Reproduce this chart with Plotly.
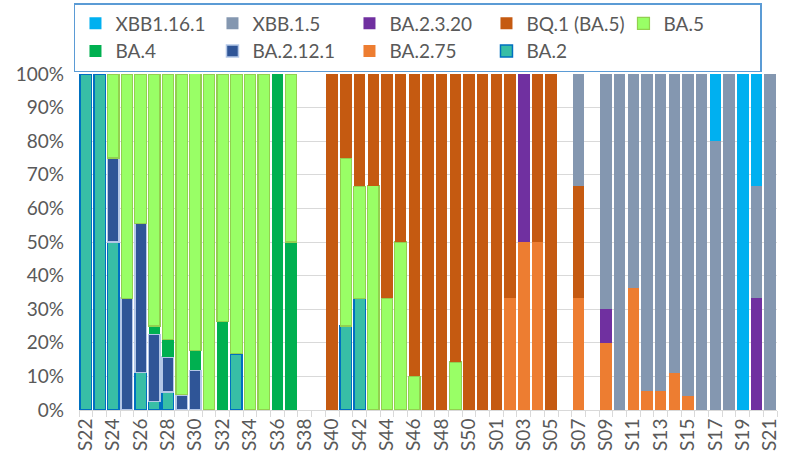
import plotly.graph_objects as go

weeks = [f"S{w}" for w in range(22, 52)] + [f"S{w:02d}" for w in range(1, 22)]

# percentage share per week (S22..S51, S01..S21); None = no data
ba2 = [100, 100, 50, None, 11.1, 2.5, 5.3, None, None, None, None, 16.7, None, None, None, None,
       None, None, None, 25, 33.3, None, None, None, None, None, None, None, None, None,
       None, None, None, None, None, None, None, None, None, None, None, None, None, None, None, None, None, None, None, None, None]
ba275 = [None] * 30 + [None, 33.3, 50, 50, None, None, 33.3, None, 20, None, 36.4, 5.6, 5.6, 11.1, 4.2,
                       None, None, None, None, None, None]
ba2121 = [None, None, 25, 33.3, 44.4, 20, 10.5, 4.5, 11.8] + [None] * 42
ba4 = [None, None, None, None, None, 2.5, 5.3, None, 5.9, None, 26.3, None, None, None, 100, 50] + [None] * 35
ba5 = [None, None, 25, 66.7, 44.4, 75, 78.9, 95.5, 82.4, 100, 73.7, 83.3, 100, 100, None, 50,
       None, None, None, 50, 33.3, 66.7, 33.3, 50, 10, None, None, 14.3, None, None] + [None] * 21
bq1 = [None] * 18 + [100, 25, 33.3, 33.3, 66.7, 50, 90, 100, 100, 85.7, 100, 100,
                     100, 66.7, None, 50, 100, None, 33.3] + [None] * 14
ba2320 = [None] * 32 + [50, None, None, None, None, None, 10] + [None] * 10 + [33.3, None]
xbb15 = [None] * 36 + [33.3, None, 70, 100, 63.6, 94.4, 94.4, 88.9, 95.8, 100, 80, 100, None, 33.3, 100]
xbb1161 = [None] * 46 + [20, None, 100, 33.3, None]

ytick_vals = list(range(0, 101, 10))
ytick_text = [f"{v}%" for v in ytick_vals]

series = [
    ("BA.2", ba2, "#38BEA6", "#0070C0", 1.5),
    ("BA.2.75", ba275, "#ED7D31", None, 0),
    ("BA.2.12.1", ba2121, "#2F5597", "#B4C7E7", 1.5),
    ("BA.4", ba4, "#00B050", None, 0),
    ("BA.5", ba5, "#99FF66", "#92D050", 1.2),
    ("BQ.1 (BA.5)", bq1, "#C55A11", None, 0),
    ("BA.2.3.20", ba2320, "#7030A0", None, 0),
    ("XBB.1.5", xbb15, "#8497B0", None, 0),
    ("XBB1.16.1", xbb1161, "#00B0F0", None, 0),
]

fig = go.Figure()
for name, vals, fill, line, lw in series:
    fig.add_trace(go.Bar(
        x=weeks, y=vals, name=name,
        marker=dict(color=fill, line=dict(color=line or fill, width=lw)),
    ))

font = dict(family="Lato, 'Open Sans', sans-serif", size=19, color="#595959")
ticktext = [w if i % 2 == 0 else "" for i, w in enumerate(weeks)]

fig.update_layout(
    width=789, height=459,
    margin=dict(l=79, r=12, t=74, b=49, autoexpand=False),
    barmode="stack", bargap=0.16,
    plot_bgcolor="white", paper_bgcolor="white",
    font=font,
    legend=dict(
        orientation="h", traceorder="reversed",
        x=-0.0072, xanchor="left", y=1.2113, yanchor="top",
        entrywidth=92, entrywidthmode="pixels",
        bordercolor="#5B9BD5", borderwidth=1.5,
        font=font, tracegroupgap=0,
    ),
    xaxis=dict(
        type="category", categoryorder="array", categoryarray=weeks,
        tickmode="array", tickvals=weeks, ticktext=ticktext,
        tickangle=-90, tickson="boundaries", ticks="outside", ticklen=6,
        tickcolor="#D9D9D9", showline=True, linecolor="#D9D9D9", linewidth=1,
        showgrid=False, tickfont=font, automargin=False,
    ),
    yaxis=dict(
        range=[0, 100], tickmode="array", tickvals=ytick_vals, ticktext=ytick_text,
        showgrid=True, gridcolor="#D9D9D9", gridwidth=1, zeroline=False,
        ticklabelstandoff=14, tickfont=font, automargin=False,
    ),
)

fig.write_html("out.html", config={"displayModeBar": False},
               post_script="document.body.style.margin='0';")
